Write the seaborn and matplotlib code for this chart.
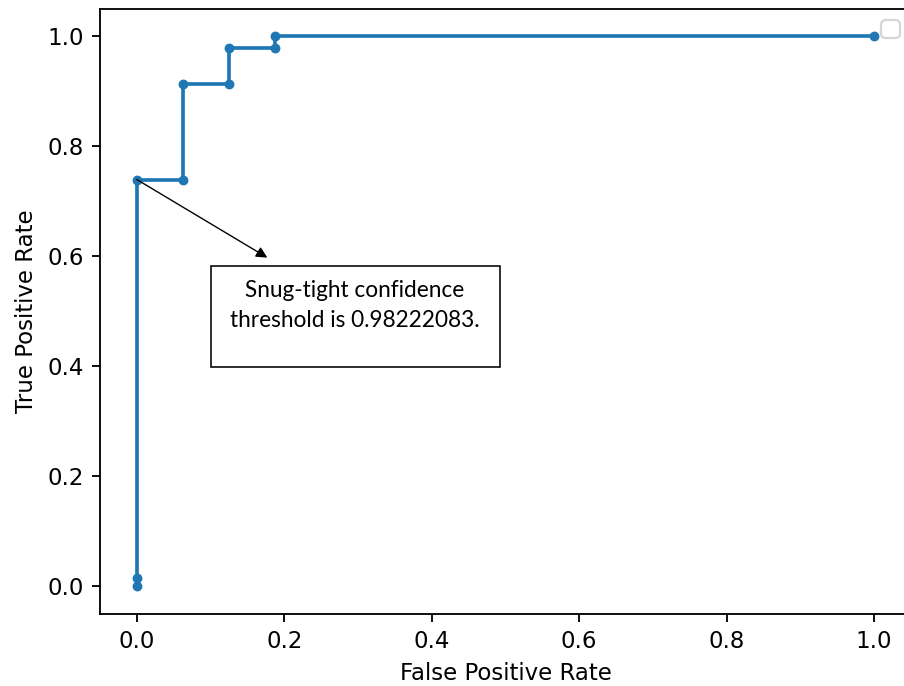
import matplotlib
matplotlib.use("Agg")
import matplotlib.pyplot as plt
import seaborn as sns
import pandas as pd
from matplotlib.patches import Rectangle

# ROC points
fpr = [0.0, 0.0, 0.0, 0.0625, 0.0625, 0.125, 0.125, 0.1875, 0.1875, 1.0]
tpr = [0.0, 0.0145, 0.739, 0.739, 0.913, 0.913, 0.978, 0.978, 1.0, 1.0]
nota = "Snug-tight confidence\nthreshold is 0.98222083."

df = pd.DataFrame({"fpr": fpr, "tpr": tpr})

DPI = 165
fig = plt.figure(figsize=(904 / DPI, 686 / DPI), dpi=DPI)
# eixo passa da borda direita, como no recorte original
ax = fig.add_axes([100 / 904, 1 - 613.5 / 686, 811 / 904, 605 / 686])

sns.lineplot(data=df, x="fpr", y="tpr", ax=ax, marker="o", sort=False,
             estimator=None, color="#1f77b4", lw=1.6, markersize=4.3,
             markeredgewidth=0)
ax.set_xlim(-0.05, 1.05)
ax.set_ylim(-0.05, 1.05)
ax.set_xlabel("False Positive Rate")
ax.set_ylabel("True Positive Rate")

ax.legend()  # sem rótulos -> caixa vazia

# caixa de anotação
ax.add_patch(Rectangle((0.1, 0.398), 0.392, 0.184, fill=False,
                       edgecolor="black", lw=0.7, zorder=5))
ax.text(0.296, 0.51, nota, ha="center", va="center", fontsize=9.9,
        family=["Lato", "DejaVu Sans"], linespacing=1.55, zorder=6)
ax.annotate("", xy=(0.177, 0.597), xytext=(fpr[2], tpr[2]),
            arrowprops=dict(arrowstyle="-|>", color="black", lw=0.6,
                            mutation_scale=10, shrinkA=0, shrinkB=0))

fig.savefig("out.png", dpi=DPI)
